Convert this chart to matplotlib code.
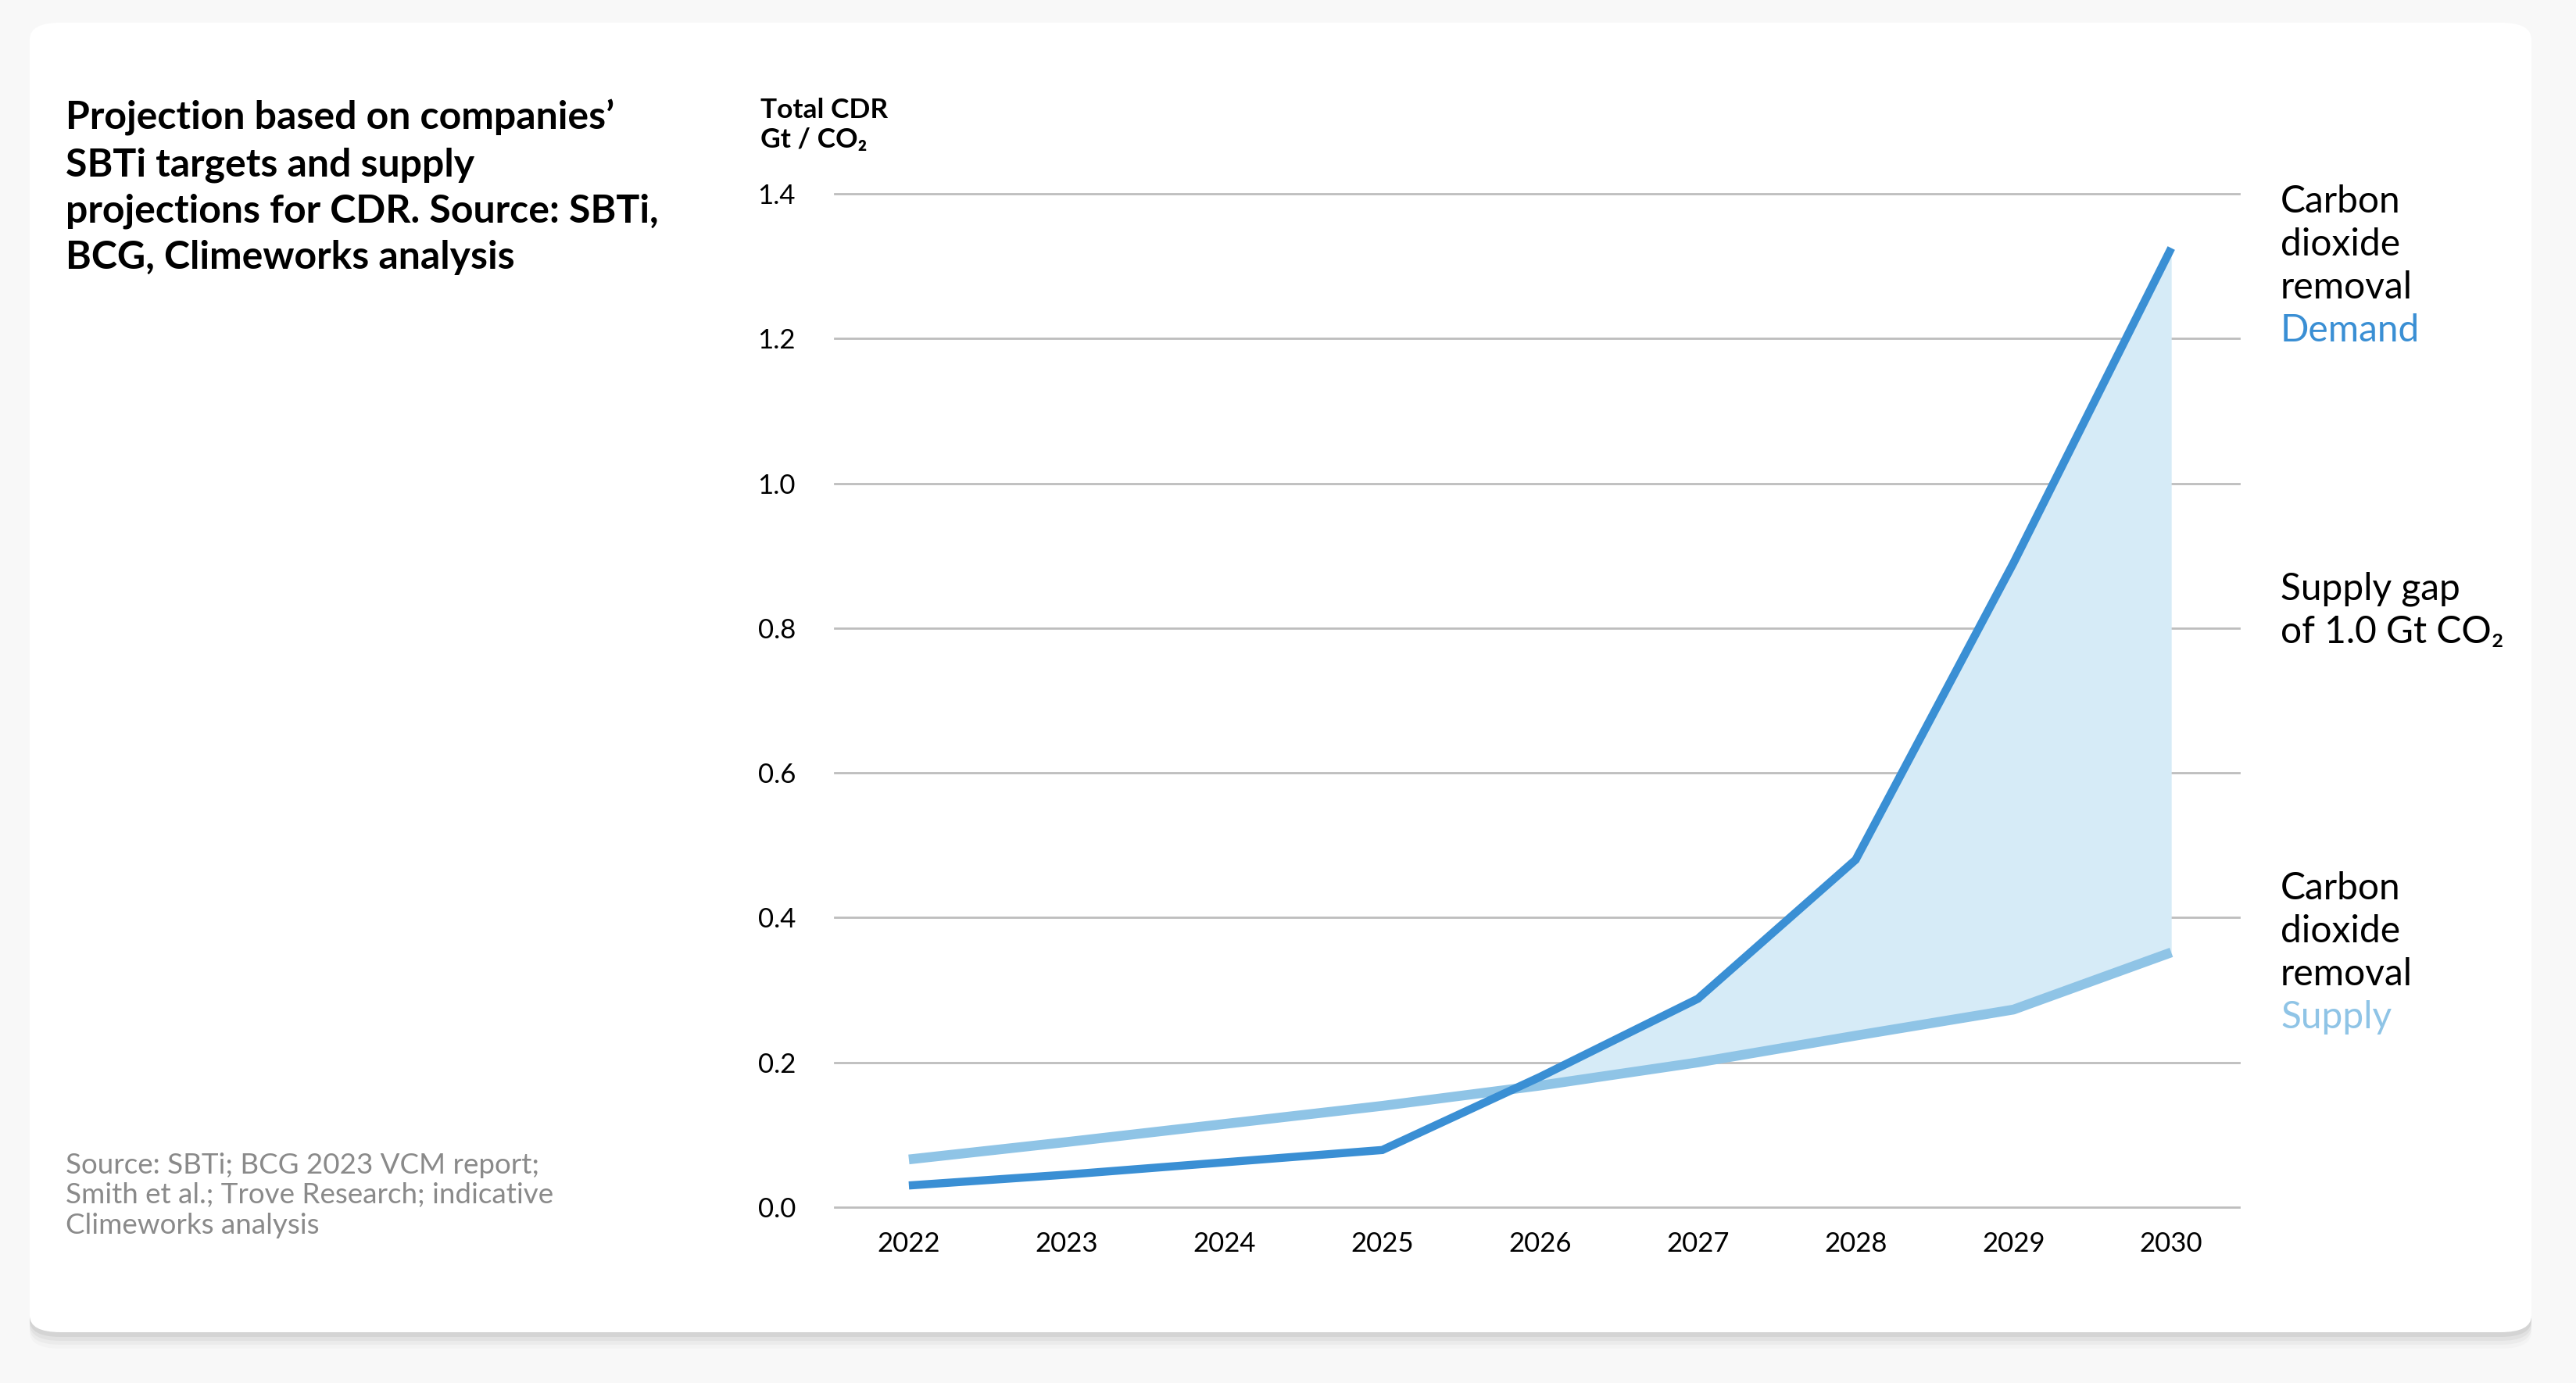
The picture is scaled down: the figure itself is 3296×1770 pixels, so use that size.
import matplotlib.pyplot as plt
from matplotlib.patches import FancyBboxPatch

years = [2022, 2023, 2024, 2025, 2026, 2027, 2028, 2029, 2030]
demand = [0.03, 0.045, 0.062, 0.079, 0.18, 0.288, 0.48, 0.89, 1.325]
supply = [0.066, 0.09, 0.115, 0.14, 0.168, 0.2, 0.237, 0.273, 0.352]
y_ticks = [0.0, 0.2, 0.4, 0.6, 0.8, 1.0, 1.2, 1.4]

title = ("Projection based on companies\u2019\nSBTi targets and supply\n"
         "projections for CDR. Source: SBTi,\nBCG, Climeworks analysis")
source = ("Source: SBTi; BCG 2023 VCM report;\nSmith et al.; Trove Research; indicative\n"
          "Climeworks analysis")

DEMAND_C = '#3a8fd4'
SUPPLY_C = '#8fc4e6'
FILL_C = '#d6ebf7'
FONT = ['Lato', 'DejaVu Sans']

plt.rcParams['font.family'] = FONT

W, H = 3296, 1770
fig = plt.figure(figsize=(W / 100, H / 100), dpi=100, facecolor='#f8f8f8')

# card with soft shadow
for i, a in enumerate([0.05, 0.04, 0.03, 0.02]):
    off = 6 + i * 5
    sh = FancyBboxPatch((38 / W, (H - 1705 - off) / H), (3239 - 38) / W, (1705 - 29) / H,
                        boxstyle='round,pad=0,rounding_size=0.012', transform=fig.transFigure,
                        facecolor='black', edgecolor='none', alpha=a, zorder=-3)
    fig.patches.append(sh)
card = FancyBboxPatch((38 / W, (H - 1705) / H), (3239 - 38) / W, (1705 - 29) / H,
                      boxstyle='round,pad=0,rounding_size=0.012', transform=fig.transFigure,
                      facecolor='white', edgecolor='none', zorder=-2)
fig.patches.append(card)

ax = fig.add_axes([1068 / W, 1 - 1545 / H, (2865 - 1068) / W, (1545 - 248) / H])
ax.set_zorder(2)
ax.set_facecolor('none')
ax.set_xlim(2021.53, 2030.43)
ax.set_ylim(0, 1.4)

ax.fill_between(years, demand, supply, where=[d >= s for d, s in zip(demand, supply)],
                interpolate=True, color=FILL_C, linewidth=0, zorder=1)
ax.plot(years, supply, color=SUPPLY_C, linewidth=9, solid_capstyle='butt', zorder=2)
ax.plot(years, demand, color=DEMAND_C, linewidth=7.5, solid_capstyle='butt',
        solid_joinstyle='miter', zorder=3)

ax.set_yticks(y_ticks)
ax.set_yticklabels([f'{v:.1f}' for v in y_ticks])
ax.set_xticks(years)
ax.tick_params(axis='both', length=0, labelsize=25, colors='black')
ax.tick_params(axis='y', pad=36)
ax.tick_params(axis='x', pad=22)
ax.grid(axis='y', color='#bdbdbd', linewidth=2)
ax.grid(axis='x', visible=False)
ax.set_axisbelow(True)
for gl in ax.get_ygridlines():
    gl.set_clip_on(False)
for s in ax.spines.values():
    s.set_visible(False)

# y axis label
fig.text(973 / W, 1 - 141 / H, 'Total CDR', fontsize=25.5, fontweight='bold', va='center', ha='left')
fig.text(973 / W, 1 - 179 / H, 'Gt / CO\u2082', fontsize=25.5, fontweight='bold', va='center', ha='left')

# title and source
fig.text(84 / W, 1 - 127 / H, title, fontsize=36, fontweight='bold', va='top', ha='left',
         linespacing=1.38)
fig.text(84 / W, 1 - 1475 / H, source, fontsize=26.5, color='#8a8a8a', va='top', ha='left',
         linespacing=1.2)

# right annotations
def label_block(lines, y0, colors):
    for i, (t, c) in enumerate(zip(lines, colors)):
        fig.text(2918 / W, 1 - (y0 + i * 55) / H, t, fontsize=34.5, color=c, va='center', ha='left')

label_block(['Carbon', 'dioxide', 'removal', 'Demand'], 258, ['black'] * 3 + [DEMAND_C])
label_block(['Supply gap', 'of 1.0 Gt CO\u2082'], 754, ['black', 'black'])
label_block(['Carbon', 'dioxide', 'removal', 'Supply'], 1137, ['black'] * 3 + [SUPPLY_C])

fig.savefig('out.png', dpi=100, facecolor=fig.get_facecolor())
